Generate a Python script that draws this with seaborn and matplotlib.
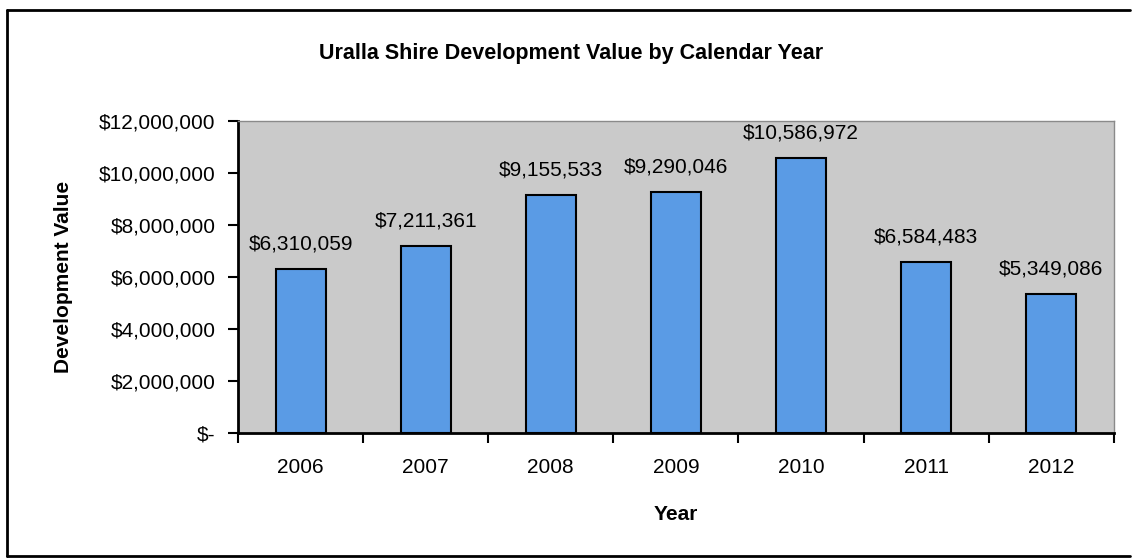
import matplotlib
matplotlib.use("Agg")
import matplotlib.pyplot as plt
import matplotlib.ticker as mticker
from matplotlib.lines import Line2D
import seaborn as sns
import pandas as pd

years = ["2006", "2007", "2008", "2009", "2010", "2011", "2012"]
values = [6310059, 7211361, 9155533, 9290046, 10586972, 6584483, 5349086]
yticks = [0, 2000000, 4000000, 6000000, 8000000, 10000000, 12000000]

sns.set_style("white")
plt.rcParams["font.family"] = ["Liberation Sans", "DejaVu Sans"]
plt.rcParams["text.color"] = "black"
plt.rcParams["axes.labelcolor"] = "black"
plt.rcParams["xtick.color"] = "black"
plt.rcParams["ytick.color"] = "black"

df = pd.DataFrame({"Year": years, "Value": values})

fig = plt.figure(figsize=(11.36, 5.58), dpi=100)
ax = fig.add_axes([0.2095, 0.224, 0.771, 0.559])
ax.set_facecolor("#cacaca")

sns.barplot(data=df, x="Year", y="Value", ax=ax, color="#5a9be5",
            width=0.40, edgecolor="black", linewidth=1.5, saturation=1)

ax.set_ylim(0, 12000000)
ax.set_xlim(-0.5, len(years) - 0.5)
ax.set_yticks(yticks)

def fmt(v, pos=None):
    if v == 0:
        return "$-"
    return "${:,.0f}".format(v)

ax.yaxis.set_major_formatter(mticker.FuncFormatter(fmt))
ax.tick_params(axis="y", labelsize=15, length=7, width=1.5, direction="out", left=True, pad=9)
ax.tick_params(axis="x", which="major", length=0, labelsize=15, pad=18)
ax.set_xticks([i + 0.5 for i in range(-1, len(years))], minor=True)
ax.tick_params(axis="x", which="minor", length=7, width=1.5, direction="out", bottom=True)

for s in ["top", "right"]:
    ax.spines[s].set_color("#8a8a8a")
    ax.spines[s].set_linewidth(1)
for s in ["left", "bottom"]:
    ax.spines[s].set_color("black")
    ax.spines[s].set_linewidth(2)

for i, v in enumerate(values):
    ax.annotate(fmt(v), (i, v), xytext=(0, 11), textcoords="offset points",
                ha="center", va="bottom", fontsize=15, color="black")

ax.set_xlabel("Year", fontsize=15, fontweight="bold", labelpad=20)
ax.set_ylabel("Development Value", fontsize=15, fontweight="bold", labelpad=19)
fig.text(0.503, 0.905, "Uralla Shire Development Value by Calendar Year",
         ha="center", va="center", fontsize=15.5, fontweight="bold")

for xs, ys in [((0.006, 0.995), (0.982, 0.982)),
               ((0.006, 0.006), (0.004, 0.982)),
               ((0.006, 0.995), (0.004, 0.004))]:
    fig.add_artist(Line2D(xs, ys, transform=fig.transFigure, color="black", lw=2))

fig.savefig("out.png", dpi=100, facecolor="white")
